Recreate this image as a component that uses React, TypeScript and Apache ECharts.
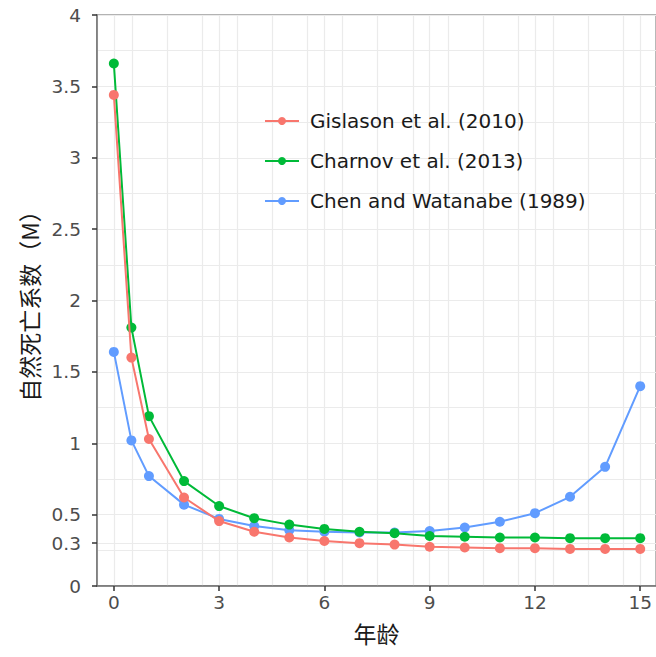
import React, { useEffect, useRef } from "react";
import * as echarts from "echarts";

const ages = [0, 0.5, 1, 2, 3, 4, 5, 6, 7, 8, 9, 10, 11, 12, 13, 14, 15];
const gislason = [3.44, 1.6, 1.03, 0.62, 0.455, 0.38, 0.34, 0.315, 0.3, 0.29, 0.275, 0.27, 0.265, 0.265, 0.26, 0.26, 0.26];
const charnov = [3.66, 1.81, 1.19, 0.735, 0.56, 0.475, 0.43, 0.4, 0.38, 0.37, 0.35, 0.345, 0.34, 0.34, 0.335, 0.335, 0.335];
const chen = [1.64, 1.02, 0.77, 0.57, 0.47, 0.42, 0.39, 0.38, 0.375, 0.375, 0.385, 0.41, 0.45, 0.51, 0.625, 0.835, 1.4];
const seriesNames = ["Gislason et al. (2010)", "Charnov et al. (2013)", "Chen and Watanabe (1989)"];
const yTickLabels = [0, 0.3, 0.5, 1, 1.5, 2, 2.5, 3, 3.5, 4];
const xTickLabels = [0, 3, 6, 9, 12, 15];
const colors = ["#F8766D", "#00BA38", "#619CFF"];

export default function App() {
  const ref = useRef<HTMLDivElement>(null);
  useEffect(() => {
    if (!ref.current) return;
    const chart = echarts.init(ref.current, null, { renderer: "svg" });
    const font = "'DejaVu Sans', 'Liberation Sans', sans-serif";
    const cjk = "'Noto Sans CJK SC', sans-serif";
    const gridColor = "#ebebeb";
    const axisColor = "#6e6e6e";
    const datasets = [gislason, charnov, chen];
    chart.setOption({
      animation: false,
      backgroundColor: "#ffffff",
      textStyle: { fontFamily: font },
      grid: {
        left: 97,
        right: 0,
        top: 15,
        bottom: 71,
        show: true,
        borderColor: "#9a9a9a",
        borderWidth: 1.5,
        backgroundColor: "transparent",
      },
      legend: {
        left: 259,
        top: 106,
        orient: "vertical",
        itemWidth: 34,
        itemHeight: 10,
        itemGap: 20,
        textStyle: { fontSize: 20, color: "#1a1a1a", fontFamily: font, padding: [0, 0, 0, 6] },
        data: seriesNames,
      },
      xAxis: [
        {
          type: "value",
          min: -0.48,
          max: 15.45,
          name: "年龄",
          nameLocation: "middle",
          nameGap: 35,
          nameTextStyle: { fontSize: 23, color: "#1a1a1a", fontFamily: cjk },
          axisLine: { show: true, onZero: false, lineStyle: { color: axisColor, width: 1.5 } },
          axisTick: { show: true, length: 5, customValues: xTickLabels, lineStyle: { color: "#333333", width: 1.5 } },
          axisLabel: { customValues: xTickLabels, fontSize: 18.5, color: "#4d4d4d", margin: 7, fontFamily: font },
          splitLine: { show: true, lineStyle: { color: gridColor, width: 1.2 } },
        },
        {
          type: "value",
          min: -0.48,
          max: 15.45,
          interval: 1,
          show: true,
          axisLine: { show: false },
          axisTick: { show: false },
          axisLabel: { show: false },
          splitLine: { show: true, lineStyle: { color: gridColor, width: 1.2 } },
        },
      ],
      yAxis: [
        {
          type: "value",
          min: 0,
          max: 4,
          name: "自然死亡系数（M）",
          nameLocation: "middle",
          nameRotate: 90,
          nameGap: 56,
          nameTextStyle: { fontSize: 23, color: "#1a1a1a", fontFamily: cjk },
          axisLine: { show: true, onZero: false, lineStyle: { color: axisColor, width: 1.5 } },
          axisTick: { show: true, length: 5, customValues: yTickLabels, lineStyle: { color: "#333333", width: 1.5 } },
          axisLabel: { customValues: yTickLabels, fontSize: 18.5, color: "#4d4d4d", margin: 16, fontFamily: font },
          splitLine: { show: true, lineStyle: { color: gridColor, width: 1.2 } },
        },
        {
          type: "value",
          min: 0,
          max: 4,
          interval: 0.25,
          show: true,
          axisLine: { show: false },
          axisTick: { show: false },
          axisLabel: { show: false },
          splitLine: { show: true, lineStyle: { color: gridColor, width: 1.2 } },
        },
      ],
      series: datasets.map((d, i) => ({
        name: seriesNames[i],
        type: "line",
        xAxisIndex: 0,
        yAxisIndex: 0,
        data: ages.map((a, j) => [a, d[j]]),
        symbol: "circle",
        symbolSize: 10,
        showSymbol: true,
        color: colors[i],
        lineStyle: { color: colors[i], width: 2 },
        itemStyle: { color: colors[i] },
        z: 3 + (2 - i),
      })),
    });
    return () => chart.dispose();
  }, []);
  return (
    <div
      ref={ref}
      style={{ position: "absolute", left: 0, top: 0, width: 656, height: 657, background: "#fff" }}
    />
  );
}
